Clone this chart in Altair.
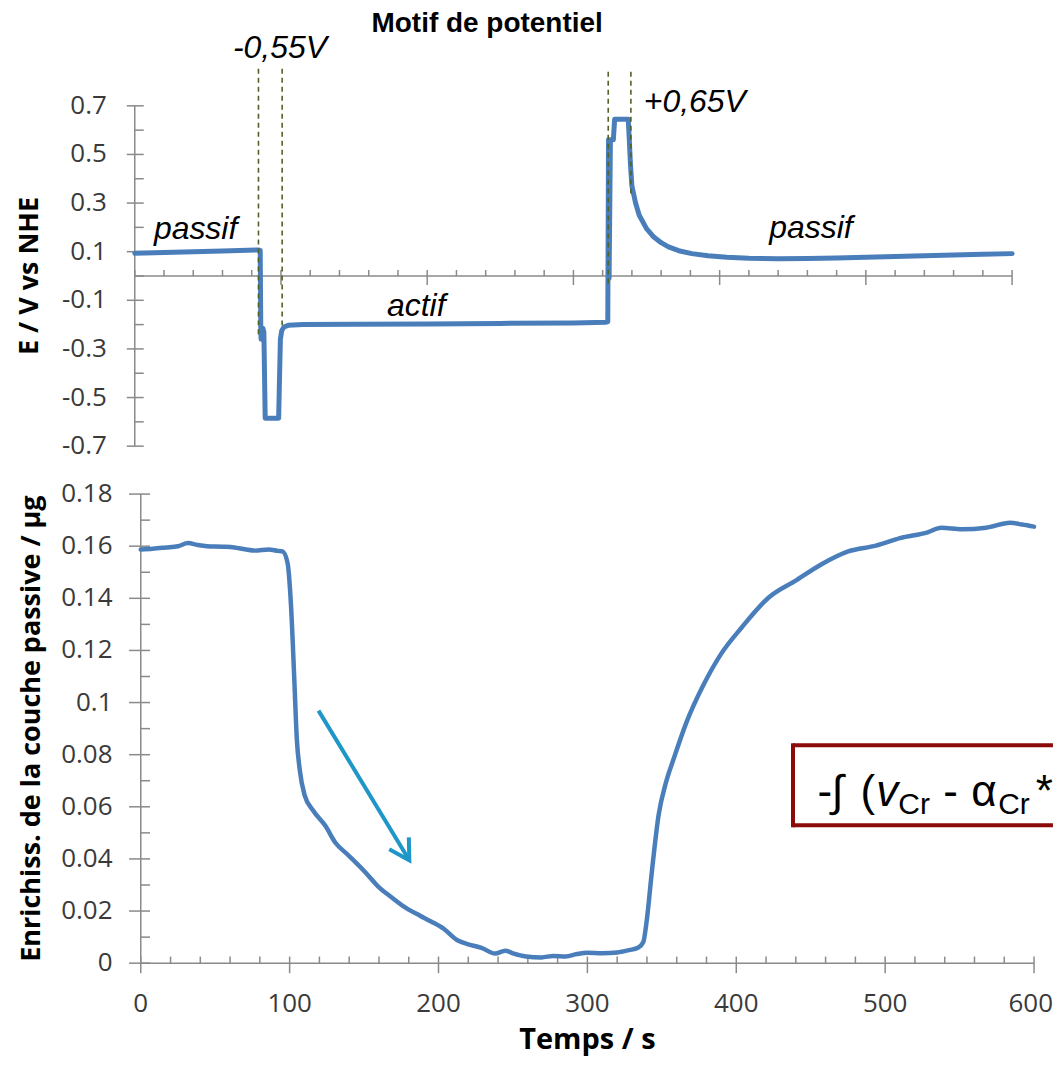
import altair as alt
import pandas as pd

# ---------------- data ----------------
# Top panel: potential E (V vs NHE) vs time (s)
top_t = [0, 20, 40, 60, 84.5, 85.8, 86.2, 86.4, 87.3, 87.6, 88.3, 89.2,
         98.4, 99.6, 100.5, 102, 105, 115, 150, 200, 250, 300,
         322.5, 323.5, 324.0, 324.4, 325.3, 327.3, 328.2,
         337.5, 338.3, 339.0, 340.0, 342.5, 345,
         350, 355, 360, 365, 372, 381, 392, 405, 420, 440, 460, 480,
         500, 520, 540, 560, 580, 600]
top_e = [0.094, 0.097, 0.100, 0.103, 0.107, 0.105, -0.22, -0.26, -0.26, -0.215, -0.23, -0.585,
         -0.585, -0.26, -0.225, -0.21, -0.203, -0.2, -0.199, -0.197, -0.195, -0.193,
         -0.19, -0.188, 0.56, -0.01, 0.56, 0.56, 0.645,
         0.645, 0.55, 0.46, 0.37, 0.30, 0.25,
         0.195, 0.16, 0.137, 0.12, 0.104, 0.092, 0.083, 0.077, 0.073, 0.071, 0.072, 0.074,
         0.077, 0.080, 0.083, 0.086, 0.089, 0.092]

# Bottom panel: enrichment of the passive layer (µg) vs time (s)
bot_t = [0, 8, 16.8, 25, 31.8, 38, 44.5, 55, 62.9, 70,
         76.7, 85.9, 92, 95.2, 98.6, 100.9, 103.2, 104.8, 106.7, 110.1,
         115.9, 124, 130.9, 138.9, 150.5, 159.7, 168, 178.1, 187.3, 195,
         203.5, 212.7, 220, 228.8, 238, 244.9, 250, 258.8, 269.2, 277,
         285.4, 293, 300, 310, 320, 328, 334, 337.5, 339.8, 343.3,
         347.9, 352.5, 358.3, 366.4, 378, 389.6, 403.5, 422, 440.5, 456.7,
         475.2, 493.8, 510, 528.5, 537.7, 551.6, 567.8, 584, 592, 600]
bot_v = [0.1587, 0.1590, 0.1595, 0.1600, 0.1612, 0.1605, 0.1600, 0.1598, 0.1595, 0.1588,
         0.1583, 0.1587, 0.1582, 0.1580, 0.1536, 0.1375, 0.1080, 0.0863, 0.0746, 0.0644,
         0.0585, 0.0527, 0.0461, 0.0417, 0.0351, 0.0293, 0.0255, 0.0212, 0.0183, 0.0160,
         0.0132, 0.0088, 0.0072, 0.0059, 0.0037, 0.0048, 0.0038, 0.0026, 0.0022, 0.0028,
         0.0026, 0.0035, 0.0040, 0.0038, 0.0041, 0.0050, 0.0059, 0.0080, 0.0161, 0.0351,
         0.0571, 0.0688, 0.0790, 0.0922, 0.1068, 0.1185, 0.1287, 0.1404, 0.1470, 0.1529,
         0.1580, 0.1602, 0.1631, 0.1653, 0.1671, 0.1665, 0.1671, 0.1690, 0.1683, 0.1675]

# ticks and tick labels
top_y_major = [-0.7, -0.5, -0.3, -0.1, 0.1, 0.3, 0.5, 0.7]
top_y_labels = ["-0.7", "-0.5", "-0.3", "-0.1", "0.1", "0.3", "0.5", "0.7"]
top_y_minor = [-0.6, -0.4, -0.2, 0.0, 0.2, 0.4, 0.6]
top_x_all = [0, 20, 40, 60, 80, 100, 120, 140, 160, 180, 200, 220, 240, 260, 280, 300,
             320, 340, 360, 380, 400, 420, 440, 460, 480, 500, 520, 540, 560, 580, 600]
top_x_major = [100, 200, 300, 400, 500, 600]
bot_y_major = [0, 0.02, 0.04, 0.06, 0.08, 0.1, 0.12, 0.14, 0.16, 0.18]
bot_y_labels = ["0", "0.02", "0.04", "0.06", "0.08", "0.1", "0.12", "0.14", "0.16", "0.18"]
bot_y_minor = [0.01, 0.03, 0.05, 0.07, 0.09, 0.11, 0.13, 0.15, 0.17]
bot_x_major = [0, 100, 200, 300, 400, 500, 600]
bot_x_labels = ["0", "100", "200", "300", "400", "500", "600"]
bot_x_minor = [20, 40, 60, 80, 120, 140, 160, 180, 220, 240, 260, 280, 320, 340, 360, 380,
               420, 440, 460, 480, 520, 540, 560, 580]

top_y_title = "E / V vs NHE"
bot_y_title = "Enrichiss. de la couche passive / \u00b5g"
bot_x_title = "Temps / s"
# anchor points of the rotated axis titles (data units of each panel)
top_y_title_at = (-71.5, 0.0)
bot_y_title_at = (-73.1, 0.09)

# annotations (in data units of each panel)
top_labels = ["-0,55V", "+0,65V", "passif", "actif", "passif"]
top_labels_t = [99.3, 383.0, 41.6, 192.5, 462.5]
top_labels_e = [0.938, 0.717, 0.195, -0.125, 0.199]
title_text = ["Motif de potentiel"]
title_t = [241.0]
title_e = [1.037]
dash_t = [84.6, 100.8, 323.8, 339.3]
dash_top = [0.852, 0.852, 0.84, 0.84]
dash_bot = [-0.25, -0.207, -0.035, 0.326]

arrow_t, arrow_v, arrow_t2, arrow_v2 = [119.4], [0.0969], [180.4], [0.0395]
box_left, box_right, box_top, box_bottom = 438.1, 612.7, 0.0836, 0.0529
eq_main = ["-", "\u222b", "(", "-", "\u03b1"]
eq_main_t = [454.5, 463.9, 483.4, 539.0, 557.8]
eq_star = ["*"]
eq_star_t = [612.7]
eq_ital = ["v"]
eq_ital_t = [494.1]
eq_sub = ["Cr", "Cr"]
eq_sub_t = [508.8, 575.9]
eq_base_v = 0.0602
eq_sub_v = 0.0571

# ---------------- styling ----------------
BLUE = "#4A7EBB"
AXC = "#8A8A8A"
LBL = "#3A3A3A"
DASH = "#4F6228"
ARROW = "#1E96C8"
BOX = "#8B0A0A"
TICKFONT = "Open Sans"
AXW = 1.5

xs_top = alt.Scale(domain=[0, 600], range=[-6, 873], nice=False, zero=False)
ys_top = alt.Scale(domain=[-0.7, 0.7], nice=False, zero=False)
xs_bot = alt.Scale(domain=[0, 600], nice=False, zero=False)
ys_bot = alt.Scale(domain=[0, 0.18], nice=False, zero=False)


def X(f, s):
    return alt.X(f, scale=s, axis=None)


def Y(f, s):
    return alt.Y(f, scale=s, axis=None)


def zeros(n):
    return [0.0] * n


# ======================= TOP PANEL =======================
top_df = pd.DataFrame({"t": top_t, "E": top_e, "i": list(range(len(top_t)))})
top_line = alt.Chart(top_df).mark_line(
    color=BLUE, strokeWidth=5, strokeJoin="round", strokeCap="round").encode(
    x=X("t:Q", xs_top), y=Y("E:Q", ys_top), order="i:Q")

t_ydom = alt.Chart(pd.DataFrame({"z": [0.0], "a": [-0.7], "b": [0.7]})).mark_rule(
    color=AXC, strokeWidth=AXW).encode(x=X("z:Q", xs_top), y=Y("a:Q", ys_top), y2="b:Q")
t_xdom = alt.Chart(pd.DataFrame({"z": [0.0], "a": [0.0], "b": [600.0]})).mark_rule(
    color=AXC, strokeWidth=AXW).encode(x=X("a:Q", xs_top), x2="b:Q", y=Y("z:Q", ys_top))
t_ymaj = alt.Chart(pd.DataFrame({"E": top_y_major, "z": zeros(len(top_y_major))})).mark_rule(
    color=AXC, strokeWidth=AXW, xOffset=-8, x2Offset=9).encode(
    x=X("z:Q", xs_top), x2="z:Q", y=Y("E:Q", ys_top))
t_ymin = alt.Chart(pd.DataFrame({"E": top_y_minor, "z": zeros(len(top_y_minor))})).mark_rule(
    color=AXC, strokeWidth=AXW, x2Offset=9).encode(
    x=X("z:Q", xs_top), x2="z:Q", y=Y("E:Q", ys_top))
t_xup = alt.Chart(pd.DataFrame({"t": top_x_all, "z": zeros(len(top_x_all))})).mark_rule(
    color=AXC, strokeWidth=AXW, y2Offset=-6).encode(
    x=X("t:Q", xs_top), y=Y("z:Q", ys_top), y2="z:Q")
t_xdn = alt.Chart(pd.DataFrame({"t": top_x_major, "z": zeros(len(top_x_major))})).mark_rule(
    color=AXC, strokeWidth=AXW, y2Offset=9).encode(
    x=X("t:Q", xs_top), y=Y("z:Q", ys_top), y2="z:Q")
t_ylab = alt.Chart(pd.DataFrame({"E": top_y_major, "lab": top_y_labels,
                                 "z": zeros(len(top_y_major))})).mark_text(
    font=TICKFONT, fontSize=26, color=LBL, align="right", baseline="middle", dx=-28).encode(
    x=X("z:Q", xs_top), y=Y("E:Q", ys_top), text="lab:N")
t_ytitle = alt.Chart(pd.DataFrame({"a": [top_y_title_at[0]], "c": [top_y_title_at[1]],
                                   "lab": [top_y_title]})).mark_text(
    font="Open Sans", fontSize=27, fontWeight="bold", color="black", angle=270,
    align="center", baseline="middle").encode(
    x=X("a:Q", xs_top), y=Y("c:Q", ys_top), text="lab:N")

dash_df = pd.DataFrame({"t": dash_t, "a": dash_top, "b": dash_bot})
top_dash = alt.Chart(dash_df).mark_rule(
    color=DASH, strokeWidth=1.6, strokeDash=[5, 4]).encode(
    x=X("t:Q", xs_top), y=Y("a:Q", ys_top), y2="b:Q")

lab_df = pd.DataFrame({"label": top_labels, "t": top_labels_t, "E": top_labels_e})
top_text = alt.Chart(lab_df).mark_text(
    font="Liberation Sans", fontStyle="italic", fontSize=32, color="black",
    align="center", baseline="middle").encode(
    x=X("t:Q", xs_top), y=Y("E:Q", ys_top), text="label:N")

ttl_df = pd.DataFrame({"label": title_text, "t": title_t, "E": title_e})
top_title = alt.Chart(ttl_df).mark_text(
    font="Liberation Sans", fontWeight="bold", fontSize=28, color="black",
    align="center", baseline="middle").encode(
    x=X("t:Q", xs_top), y=Y("E:Q", ys_top), text="label:N")

top = alt.layer(t_ydom, t_xdom, t_ymaj, t_ymin, t_xup, t_xdn, t_ylab, t_ytitle,
                top_line, top_dash, top_text, top_title).properties(width=873, height=341)

# ======================= BOTTOM PANEL =======================
bot_df = pd.DataFrame({"t": bot_t, "v": bot_v, "i": list(range(len(bot_t)))})
bot_line = alt.Chart(bot_df).mark_line(
    color=BLUE, strokeWidth=4.5, strokeJoin="round", strokeCap="round",
    interpolate="monotone").encode(
    x=X("t:Q", xs_bot), y=Y("v:Q", ys_bot), order="i:Q")

b_ydom = alt.Chart(pd.DataFrame({"z": [0.0], "a": [0.0], "b": [0.18]})).mark_rule(
    color=AXC, strokeWidth=AXW).encode(x=X("z:Q", xs_bot), y=Y("a:Q", ys_bot), y2="b:Q")
b_xdom = alt.Chart(pd.DataFrame({"z": [0.0], "a": [0.0], "b": [600.0]})).mark_rule(
    color=AXC, strokeWidth=AXW).encode(x=X("a:Q", xs_bot), x2="b:Q", y=Y("z:Q", ys_bot))
b_ymaj = alt.Chart(pd.DataFrame({"v": bot_y_major, "z": zeros(len(bot_y_major))})).mark_rule(
    color=AXC, strokeWidth=AXW, xOffset=-11.7, x2Offset=9.3).encode(
    x=X("z:Q", xs_bot), x2="z:Q", y=Y("v:Q", ys_bot))
b_ymin = alt.Chart(pd.DataFrame({"v": bot_y_minor, "z": zeros(len(bot_y_minor))})).mark_rule(
    color=AXC, strokeWidth=AXW, x2Offset=9.3).encode(
    x=X("z:Q", xs_bot), x2="z:Q", y=Y("v:Q", ys_bot))
b_xmaj = alt.Chart(pd.DataFrame({"t": bot_x_major, "z": zeros(len(bot_x_major))})).mark_rule(
    color=AXC, strokeWidth=AXW, yOffset=-6.6, y2Offset=10).encode(
    x=X("t:Q", xs_bot), y=Y("z:Q", ys_bot), y2="z:Q")
b_xmin = alt.Chart(pd.DataFrame({"t": bot_x_minor, "z": zeros(len(bot_x_minor))})).mark_rule(
    color=AXC, strokeWidth=AXW, y2Offset=-6.6).encode(
    x=X("t:Q", xs_bot), y=Y("z:Q", ys_bot), y2="z:Q")
b_ylab = alt.Chart(pd.DataFrame({"v": bot_y_major, "lab": bot_y_labels,
                                 "z": zeros(len(bot_y_major))})).mark_text(
    font=TICKFONT, fontSize=26, color=LBL, align="right", baseline="middle", dx=-28.3).encode(
    x=X("z:Q", xs_bot), y=Y("v:Q", ys_bot), text="lab:N")
# x labels: the last one is right-anchored so that it stays inside the page
b_xlab = alt.Chart(pd.DataFrame({"t": bot_x_major[:-1], "lab": bot_x_labels[:-1],
                                 "z": zeros(len(bot_x_major) - 1)})).mark_text(
    font=TICKFONT, fontSize=26, color=LBL, align="center", baseline="alphabetic", dy=49).encode(
    x=X("t:Q", xs_bot), y=Y("z:Q", ys_bot), text="lab:N")
b_xlab_last = alt.Chart(pd.DataFrame({"t": bot_x_major[-1:], "lab": bot_x_labels[-1:],
                                      "z": [0.0]})).mark_text(
    font=TICKFONT, fontSize=26, color=LBL, align="right", baseline="alphabetic",
    dx=19, dy=49).encode(
    x=X("t:Q", xs_bot), y=Y("z:Q", ys_bot), text="lab:N")
b_ytitle = alt.Chart(pd.DataFrame({"a": [bot_y_title_at[0]], "c": [bot_y_title_at[1]],
                                   "lab": [bot_y_title]})).mark_text(
    font="Open Sans", fontSize=27, fontWeight="bold", color="black", angle=270,
    align="center", baseline="middle").encode(
    x=X("a:Q", xs_bot), y=Y("c:Q", ys_bot), text="lab:N")
b_xtitle = alt.Chart(pd.DataFrame({"c": [300.0], "z": [0.0], "lab": [bot_x_title]})).mark_text(
    font="Open Sans", fontSize=29, fontWeight="bold", color="black",
    align="center", baseline="alphabetic", dy=86).encode(
    x=X("c:Q", xs_bot), y=Y("z:Q", ys_bot), text="lab:N")

arrow_df = pd.DataFrame({"t": arrow_t, "v": arrow_v, "t2": arrow_t2, "v2": arrow_v2})
arrow_shaft = alt.Chart(arrow_df).mark_rule(color=ARROW, strokeWidth=4).encode(
    x=X("t:Q", xs_bot), y=Y("v:Q", ys_bot), x2="t2:Q", y2="v2:Q")
arrow_head = alt.Chart(arrow_df).mark_point(
    shape="M-0.5,-0.866L0,0L0.5,-0.866", size=2100, filled=False, strokeWidth=4,
    color=ARROW, opacity=1, angle=328.7, strokeJoin="miter").encode(
    x=X("t2:Q", xs_bot), y=Y("v2:Q", ys_bot))

box_h_df = pd.DataFrame({"t": [box_left, box_left], "t2": [box_right, box_right],
                         "v": [box_top, box_bottom]})
box_h = alt.Chart(box_h_df).mark_rule(color=BOX, strokeWidth=4, strokeCap="butt").encode(
    x=X("t:Q", xs_bot), x2="t2:Q", y=Y("v:Q", ys_bot))
box_v_df = pd.DataFrame({"t": [box_left], "v": [box_top], "v2": [box_bottom]})
box_v = alt.Chart(box_v_df).mark_rule(color=BOX, strokeWidth=4, strokeCap="square").encode(
    x=X("t:Q", xs_bot), y=Y("v:Q", ys_bot), y2="v2:Q")

eq_main_df = pd.DataFrame({"s": eq_main, "t": eq_main_t, "v": [eq_base_v] * len(eq_main)})
eq_star_df = pd.DataFrame({"s": eq_star, "t": eq_star_t, "v": [eq_base_v] * len(eq_star)})
eq_ital_df = pd.DataFrame({"s": eq_ital, "t": eq_ital_t, "v": [eq_base_v] * len(eq_ital)})
eq_sub_df = pd.DataFrame({"s": eq_sub, "t": eq_sub_t, "v": [eq_sub_v] * len(eq_sub)})


def eq_enc():
    return dict(x=X("t:Q", xs_bot), y=Y("v:Q", ys_bot), text="s:N")


eq1 = alt.Chart(eq_main_df).mark_text(font="Liberation Sans", fontSize=44, color="black",
                                      align="left", baseline="alphabetic").encode(**eq_enc())
eq1b = alt.Chart(eq_star_df).mark_text(font="Liberation Sans", fontSize=44, color="black",
                                       align="right", baseline="alphabetic").encode(**eq_enc())
eq2 = alt.Chart(eq_ital_df).mark_text(font="Liberation Sans", fontSize=44, fontStyle="italic",
                                      color="black", align="left",
                                      baseline="alphabetic").encode(**eq_enc())
eq3 = alt.Chart(eq_sub_df).mark_text(font="Liberation Sans", fontSize=30, color="black",
                                     align="left", baseline="alphabetic").encode(**eq_enc())

bottom = alt.layer(b_ydom, b_xdom, b_ymaj, b_ymin, b_xmaj, b_xmin, b_ylab, b_xlab, b_xlab_last,
                   b_ytitle, b_xtitle, bot_line, arrow_shaft, arrow_head,
                   box_h, box_v, eq1, eq1b, eq2, eq3).properties(width=895, height=470)

chart = alt.vconcat(top, bottom, spacing=48, bounds="flush").configure_view(
    stroke=None).properties(
    padding={"left": 8, "top": 0, "right": 0, "bottom": 0}, background="white")

chart.save("out.html", embed_options={"renderer": "svg", "actions": False})
